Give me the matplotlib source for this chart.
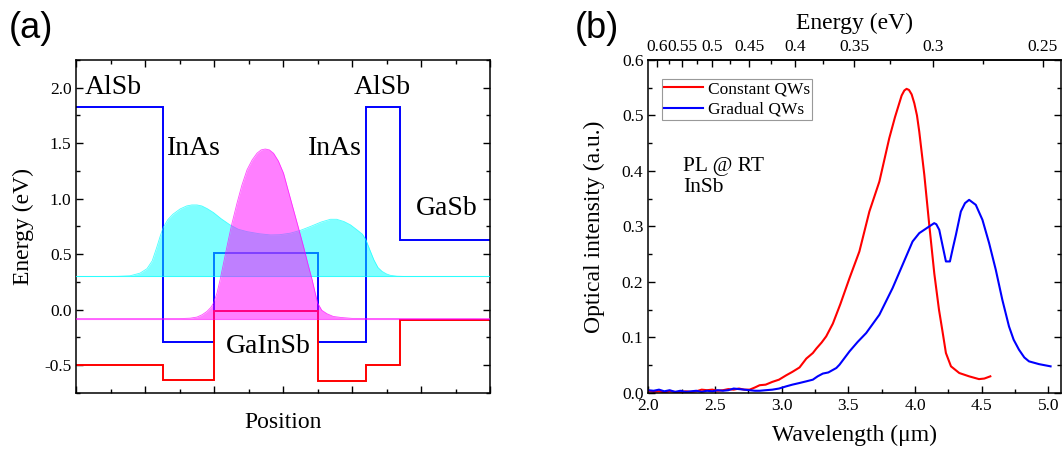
import matplotlib
matplotlib.use('Agg')
import matplotlib.pyplot as plt
from matplotlib.ticker import MultipleLocator

# ---- panel (a): band diagram ----
layer_edges = [0.0, 2.5, 4.0, 7.0, 8.4, 9.4, 12.0]
cb_levels = [1.83, -0.29, 0.51, -0.29, 1.83, 0.63]
vb_levels = [-0.50, -0.635, -0.01, -0.64, -0.50, -0.09]

elec_base = 0.30
elec_x = [0.0, 0.8, 1.2, 1.56, 1.85, 2.05, 2.2, 2.33, 2.43, 2.52, 2.65, 2.8, 3.01,
          3.2, 3.35, 3.5, 3.64, 3.8, 3.98, 4.2, 4.46, 4.7, 4.95, 5.3, 5.63, 5.9,
          6.21, 6.5, 6.79, 7.1, 7.37, 7.55, 7.76, 7.95, 8.14, 8.3, 8.4, 8.5, 8.63,
          8.75, 8.87, 9.0, 9.11, 9.3, 9.5, 12.0]
elec_y = [0.30, 0.30, 0.301, 0.306, 0.33, 0.37, 0.44, 0.56, 0.66, 0.74, 0.81, 0.86, 0.908,
          0.935, 0.944, 0.944, 0.935, 0.91, 0.875, 0.82, 0.764, 0.725, 0.704, 0.685, 0.674, 0.676,
          0.69, 0.715, 0.75, 0.79, 0.815, 0.815, 0.795, 0.765, 0.72, 0.68, 0.63, 0.55, 0.45,
          0.38, 0.345, 0.322, 0.31, 0.302, 0.30, 0.30]

hole_base = -0.08
hole_x = [0.0, 3.0, 3.3, 3.5, 3.65, 3.79, 3.9, 3.98, 4.08, 4.17, 4.27, 4.37, 4.5, 4.66, 4.8,
          4.95, 5.1, 5.24, 5.36, 5.48, 5.6, 5.72, 5.86, 6.01, 6.15, 6.3, 6.45, 6.59, 6.72,
          6.84, 6.93, 7.0, 7.12, 7.27, 7.45, 7.66, 8.0, 12.0]
hole_y = [-0.08, -0.08, -0.076, -0.066, -0.045, -0.015, 0.02, 0.06, 0.15, 0.27, 0.42, 0.57,
          0.76, 0.96, 1.12, 1.26, 1.35, 1.41, 1.44, 1.448, 1.44, 1.41, 1.34, 1.23, 1.07, 0.9,
          0.73, 0.57, 0.41, 0.27, 0.15, 0.06, -0.005, -0.036, -0.06, -0.069, -0.078, -0.08]

labels_a = [("AlSb", 0.25, 1.94), ("InAs", 2.62, 1.39), ("InAs", 6.71, 1.39),
            ("AlSb", 8.06, 1.94), ("GaSb", 9.85, 0.855), ("GaInSb", 4.34, -0.39)]

# ---- panel (b): PL spectra ----
wl_const = [2.00, 2.04, 2.08, 2.12, 2.16, 2.20, 2.24, 2.28, 2.32, 2.36, 2.40, 2.44, 2.48,
            2.52, 2.56, 2.60, 2.64, 2.68, 2.72, 2.76, 2.80, 2.835, 2.88, 2.93, 2.98, 3.035,
            3.08, 3.134, 3.185, 3.234, 3.26, 3.30, 3.334, 3.384, 3.44, 3.509, 3.583, 3.658,
            3.733, 3.807, 3.85, 3.882, 3.90, 3.92, 3.937, 3.955, 3.975, 3.995, 4.015, 4.032,
            4.07, 4.107, 4.145, 4.18, 4.207, 4.232, 4.27, 4.332, 4.406, 4.48, 4.52, 4.565]
pl_const = [0.004, 0.002, 0.003, 0.001, 0.003, 0.002, 0.001, 0.003, 0.002, 0.003, 0.006,
            0.005, 0.006, 0.004, 0.005, 0.007, 0.006, 0.008, 0.006, 0.006, 0.010, 0.014,
            0.015, 0.020, 0.024, 0.032, 0.038, 0.046, 0.062, 0.072, 0.080, 0.091, 0.102,
            0.125, 0.160, 0.207, 0.255, 0.327, 0.381, 0.459, 0.497, 0.522, 0.536, 0.545,
            0.548, 0.546, 0.538, 0.522, 0.500, 0.471, 0.393, 0.303, 0.215, 0.150, 0.110,
            0.072, 0.048, 0.036, 0.030, 0.025, 0.026, 0.030]

wl_grad = [2.00, 2.04, 2.08, 2.12, 2.16, 2.20, 2.24, 2.28, 2.32, 2.36, 2.40, 2.44, 2.48,
           2.52, 2.56, 2.60, 2.64, 2.68, 2.72, 2.76, 2.80, 2.835, 2.88, 2.93, 2.98, 3.035,
           3.08, 3.134, 3.185, 3.234, 3.27, 3.309, 3.35, 3.41, 3.434, 3.509, 3.57, 3.634,
           3.733, 3.832, 3.907, 3.982, 4.032, 4.094, 4.144, 4.16, 4.182, 4.21, 4.232, 4.262,
           4.285, 4.307, 4.344, 4.375, 4.406, 4.456, 4.506, 4.556, 4.606, 4.655, 4.705,
           4.74, 4.78, 4.82, 4.855, 4.93, 5.017]
pl_grad = [0.005, 0.004, 0.006, 0.003, 0.005, 0.002, 0.004, 0.002, 0.003, 0.004, 0.002,
           0.004, 0.003, 0.005, 0.004, 0.005, 0.008, 0.007, 0.006, 0.005, 0.004, 0.004,
           0.005, 0.006, 0.008, 0.012, 0.015, 0.018, 0.021, 0.024, 0.030, 0.035, 0.037,
           0.045, 0.051, 0.075, 0.092, 0.108, 0.141, 0.189, 0.231, 0.273, 0.288, 0.298,
           0.306, 0.304, 0.294, 0.262, 0.237, 0.237, 0.262, 0.285, 0.327, 0.342, 0.348,
           0.339, 0.312, 0.270, 0.222, 0.168, 0.120, 0.096, 0.078, 0.064, 0.057, 0.052,
           0.048]

energy_ticks = [0.6, 0.55, 0.5, 0.45, 0.4, 0.35, 0.3, 0.25]
energy_labels = ["0.6", "0.55", "0.5", "0.45", "0.4", "0.35", "0.3", "0.25"]
energy_minor = [0.575, 0.525, 0.475, 0.425, 0.375, 0.325, 0.275]

serif = 'Liberation Serif'
plt.rcParams['font.family'] = serif
plt.rcParams['axes.unicode_minus'] = False
plt.rcParams['axes.linewidth'] = 1.1

fig = plt.figure(figsize=(10.63, 4.5), dpi=100)

# panel (a)
ax = fig.add_axes([0.0718, 0.1267, 0.3892, 0.74])
ax.stairs(cb_levels, layer_edges, color='blue', lw=1.4, baseline=None, zorder=2)
ax.stairs(vb_levels, layer_edges, color='red', lw=1.4, baseline=None, zorder=2)
ax.fill_between(elec_x, elec_base, elec_y, color='cyan', alpha=0.5, lw=0, zorder=3)
ax.plot(elec_x, elec_y, color='cyan', lw=0.6, alpha=0.7, zorder=3)
ax.axhline(elec_base, color='cyan', lw=0.8, alpha=0.6, zorder=3)
ax.fill_between(hole_x, hole_base, hole_y, color='magenta', alpha=0.5, lw=0, zorder=4)
ax.plot(hole_x, hole_y, color='magenta', lw=0.6, alpha=0.7, zorder=4)
ax.axhline(hole_base, color='magenta', lw=0.8, alpha=0.6, zorder=4)

for text, x, y in labels_a:
    ax.text(x, y, text, fontsize=20, va='baseline', ha='left', zorder=5)

ax.set_xlim(0, 12)
ax.set_ylim(-0.75, 2.25)
ax.xaxis.set_major_locator(MultipleLocator(2))
ax.xaxis.set_minor_locator(MultipleLocator(1))
ax.yaxis.set_major_locator(MultipleLocator(0.5))
ax.yaxis.set_minor_locator(MultipleLocator(0.25))
ax.tick_params(which='both', direction='in', top=True, right=True, labelsize=12.5)
ax.tick_params(which='major', length=5, width=1)
ax.tick_params(which='minor', length=3, width=1)
ax.tick_params(axis='x', labelbottom=False)
ax.set_xlabel('Position', fontsize=17, labelpad=10)
ax.set_ylabel('Energy (eV)', fontsize=17, labelpad=7)

# panel (b)
bx = fig.add_axes([0.6099, 0.1267, 0.3882, 0.74])
bx.plot(wl_const, pl_const, color='red', lw=1.5, label='Constant QWs')
bx.plot(wl_grad, pl_grad, color='blue', lw=1.5, label='Gradual QWs')
bx.set_xlim(2.0, 5.095)
bx.set_ylim(0, 0.6)
bx.xaxis.set_major_locator(MultipleLocator(0.5))
bx.xaxis.set_minor_locator(MultipleLocator(0.25))
bx.yaxis.set_major_locator(MultipleLocator(0.1))
bx.yaxis.set_minor_locator(MultipleLocator(0.05))
bx.tick_params(which='both', direction='in', top=False, right=True, labelsize=12.5)
bx.tick_params(which='major', length=5, width=1)
bx.tick_params(which='minor', length=3, width=1)
bx.set_xlabel('Wavelength (\u03bcm)', fontsize=17, labelpad=8)
bx.set_ylabel('Optical intensity (a.u.)', fontsize=17, labelpad=12)

top = bx.secondary_xaxis('top', functions=(lambda w: 1.24 / w, lambda e: 1.24 / e))
top.set_xticks(energy_ticks)
top.set_xticklabels(energy_labels)
top.set_xticks(energy_minor, minor=True)
top.tick_params(which='both', direction='in', labelsize=12.5)
top.tick_params(which='major', length=5, width=1)
top.tick_params(which='minor', length=3, width=1)
top.set_xlabel('Energy (eV)', fontsize=17, labelpad=7)

leg = bx.legend(loc='upper left', bbox_to_anchor=(0.0325, 0.944), borderaxespad=0,
                fontsize=12.5, frameon=True, fancybox=False, edgecolor='gray',
                handlelength=2.25, handletextpad=0.25, borderpad=0.15, labelspacing=0.25)
leg.get_frame().set_linewidth(0.8)

bx.text(2.26, 0.426, 'PL @ RT\nInSb', fontsize=15.5, va='top', ha='left', linespacing=1.2)

fig.text(0.008, 0.937, '(a)', fontsize=26, family='Liberation Sans', va='center', ha='left')
fig.text(0.541, 0.937, '(b)', fontsize=26, family='Liberation Sans', va='center', ha='left')

fig.savefig('out.png', dpi=100)
